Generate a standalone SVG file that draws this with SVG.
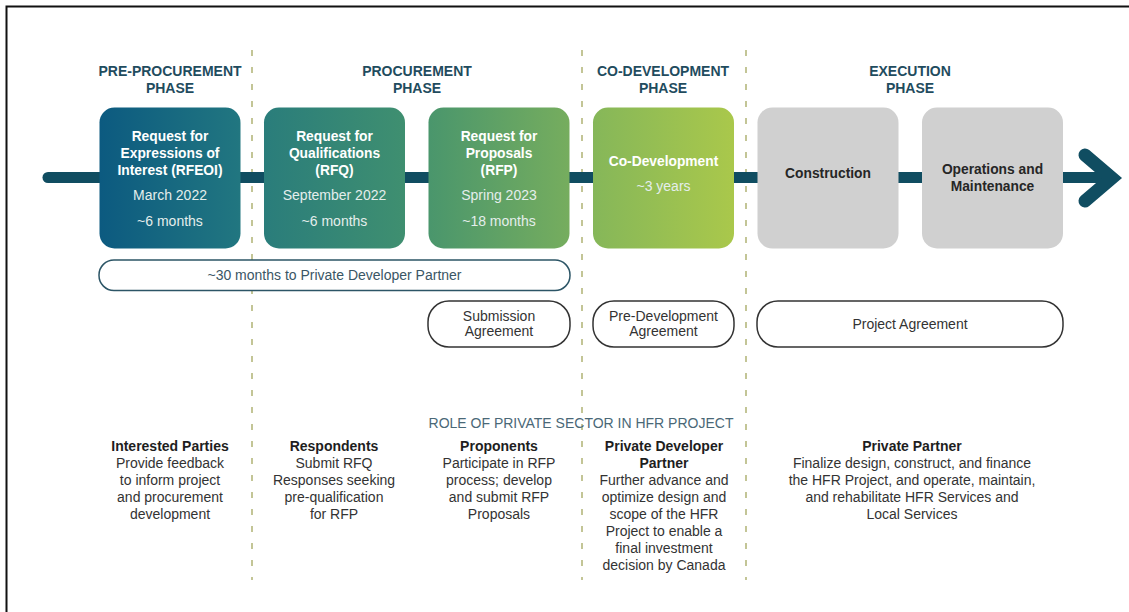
<svg xmlns="http://www.w3.org/2000/svg" width="1129" height="612" viewBox="0 0 1129 612">
  <defs>
    <linearGradient id="stageGrad" gradientUnits="userSpaceOnUse" x1="99" y1="0" x2="735" y2="0">
      <stop offset="0" stop-color="#0c5a80"/>
      <stop offset="0.22" stop-color="#217680"/>
      <stop offset="0.26" stop-color="#2a7d7b"/>
      <stop offset="0.48" stop-color="#3f8f70"/>
      <stop offset="0.52" stop-color="#4a966c"/>
      <stop offset="0.74" stop-color="#76ad5e"/>
      <stop offset="0.78" stop-color="#86b759"/>
      <stop offset="1" stop-color="#aac84b"/>
    </linearGradient>
  </defs>
  <style>
    text { font-family: "Liberation Sans", Arial, sans-serif; text-anchor: middle; }
    .phase { font-size: 14px; font-weight: bold; fill: #1f4c5e; }
    .stage { fill: url(#stageGrad); }
    .exec { fill: #d0d0d0; }
    .title { font-size: 13.8px; font-weight: bold; fill: #ffffff; }
    .date { font-size: 14px; fill: #e4eeec; }
    .dtitle { font-size: 13.8px; font-weight: bold; fill: #262626; }
    .divider { stroke: #c3c596; stroke-width: 2; stroke-dasharray: 6 11; fill: none; }
    .pill { fill: #ffffff; stroke: #333333; stroke-width: 1.5; }
    .pill-teal { fill: #ffffff; stroke: #2c5566; stroke-width: 1.5; }
    .ptext { font-size: 14px; fill: #333333; }
    .role-head { font-size: 14px; font-weight: bold; fill: #1e1e1e; }
    .role-body { font-size: 14px; fill: #333333; }
  </style>

  <rect x="0" y="0" width="1129" height="612" fill="#ffffff"/>
  <!-- page frame -->
  <path d="M6.5,612 V6.5 H1129" fill="none" stroke="#111111" stroke-width="2"/>

  <!-- phase dividers -->
  <g id="dividers">
    <line class="divider" x1="252" y1="50" x2="252" y2="580"/>
    <line class="divider" x1="582" y1="50" x2="582" y2="580"/>
    <line class="divider" x1="746" y1="50" x2="746" y2="580"/>
  </g>

  <!-- phase headings -->
  <g id="phase-headings">
    <text class="phase" x="170" y="76">PRE-PROCUREMENT</text>
    <text class="phase" x="170" y="93">PHASE</text>
    <text class="phase" x="417" y="76">PROCUREMENT</text>
    <text class="phase" x="417" y="93">PHASE</text>
    <text class="phase" x="663" y="76">CO-DEVELOPMENT</text>
    <text class="phase" x="663" y="93">PHASE</text>
    <text class="phase" x="910" y="76">EXECUTION</text>
    <text class="phase" x="910" y="93">PHASE</text>
  </g>

  <!-- timeline bar and arrowhead -->
  <g id="connectors">
    <line x1="48" y1="177.5" x2="1108" y2="177.5" stroke="#104d61" stroke-width="11" stroke-linecap="round"/>
    <polyline points="1085,155 1112,178 1085,201" fill="none" stroke="#104d61" stroke-width="13" stroke-linecap="round" stroke-linejoin="miter"/>
  </g>

  <g id="stage-rfeoi">
    <rect class="stage" x="99.5" y="107.5" width="141" height="141" rx="15"/>
    <text class="title" x="170" y="141">Request for</text>
    <text class="title" x="170" y="158">Expressions of</text>
    <text class="title" x="170" y="175">Interest (RFEOI)</text>
    <text class="date" x="170" y="200">March 2022</text>
    <text class="date" x="170" y="226">~6 months</text>
  </g>

  <g id="stage-rfq">
    <rect class="stage" x="264" y="107.5" width="141" height="141" rx="15"/>
    <text class="title" x="334.5" y="141">Request for</text>
    <text class="title" x="334.5" y="158">Qualifications</text>
    <text class="title" x="334.5" y="175">(RFQ)</text>
    <text class="date" x="334.5" y="200">September 2022</text>
    <text class="date" x="334.5" y="226">~6 months</text>
  </g>

  <g id="stage-rfp">
    <rect class="stage" x="428.5" y="107.5" width="141" height="141" rx="15"/>
    <text class="title" x="499" y="141">Request for</text>
    <text class="title" x="499" y="158">Proposals</text>
    <text class="title" x="499" y="175">(RFP)</text>
    <text class="date" x="499" y="200">Spring 2023</text>
    <text class="date" x="499" y="226">~18 months</text>
  </g>

  <g id="stage-codev">
    <rect class="stage" x="593" y="107.5" width="141" height="141" rx="15"/>
    <text class="title" x="663.5" y="166">Co-Development</text>
    <text class="date" x="663.5" y="191">~3 years</text>
  </g>

  <g id="stage-construction">
    <rect class="exec" x="757.5" y="107.5" width="141" height="141" rx="15"/>
    <text class="dtitle" x="828" y="178">Construction</text>
  </g>

  <g id="stage-operations">
    <rect class="exec" x="922" y="107.5" width="141" height="141" rx="15"/>
    <text class="dtitle" x="992.5" y="174">Operations and</text>
    <text class="dtitle" x="992.5" y="191">Maintenance</text>
  </g>

  <!-- duration and agreement pills -->
  <g id="pill-30-months">
    <rect class="pill-teal" x="99" y="260" width="471" height="30.5" rx="15"/>
    <text class="ptext" x="334.5" y="280" style="fill:#3a5665">~30 months to Private Developer Partner</text>
  </g>

  <g id="pill-submission">
    <rect class="pill" x="428" y="301" width="142" height="46" rx="21"/>
    <text class="ptext" x="499" y="321">Submission</text>
    <text class="ptext" x="499" y="336">Agreement</text>
  </g>

  <g id="pill-predev">
    <rect class="pill" x="593" y="301" width="141" height="46" rx="21"/>
    <text class="ptext" x="663.5" y="321">Pre-Development</text>
    <text class="ptext" x="663.5" y="336">Agreement</text>
  </g>

  <g id="pill-project">
    <rect class="pill" x="757" y="301" width="306" height="46" rx="21"/>
    <text class="ptext" x="910" y="329">Project Agreement</text>
  </g>

  <!-- roles of the private sector -->
  <text x="581" y="428" style="font-size:14px;fill:#4a6877">ROLE OF PRIVATE SECTOR IN HFR PROJECT</text>

  <g id="role-interested">
    <text class="role-head" x="170" y="451">Interested Parties</text>
    <text class="role-body" x="170" y="468">Provide feedback</text>
    <text class="role-body" x="170" y="485">to inform project</text>
    <text class="role-body" x="170" y="502">and procurement</text>
    <text class="role-body" x="170" y="519">development</text>
  </g>

  <g id="role-respondents">
    <text class="role-head" x="334" y="451">Respondents</text>
    <text class="role-body" x="334" y="468">Submit RFQ</text>
    <text class="role-body" x="334" y="485">Responses seeking</text>
    <text class="role-body" x="334" y="502">pre-qualification</text>
    <text class="role-body" x="334" y="519">for RFP</text>
  </g>

  <g id="role-proponents">
    <text class="role-head" x="499" y="451">Proponents</text>
    <text class="role-body" x="499" y="468">Participate in RFP</text>
    <text class="role-body" x="499" y="485">process; develop</text>
    <text class="role-body" x="499" y="502">and submit RFP</text>
    <text class="role-body" x="499" y="519">Proposals</text>
  </g>

  <g id="role-developer">
    <text class="role-head" x="664" y="451">Private Developer</text>
    <text class="role-head" x="664" y="468">Partner</text>
    <text class="role-body" x="664" y="485">Further advance and</text>
    <text class="role-body" x="664" y="502">optimize design and</text>
    <text class="role-body" x="664" y="519">scope of the HFR</text>
    <text class="role-body" x="664" y="536">Project to enable a</text>
    <text class="role-body" x="664" y="553">final investment</text>
    <text class="role-body" x="664" y="570">decision by Canada</text>
  </g>

  <g id="role-partner">
    <text class="role-head" x="912" y="451">Private Partner</text>
    <text class="role-body" x="912" y="468">Finalize design, construct, and finance</text>
    <text class="role-body" x="912" y="485">the HFR Project, and operate, maintain,</text>
    <text class="role-body" x="912" y="502">and rehabilitate HFR Services and</text>
    <text class="role-body" x="912" y="519">Local Services</text>
  </g>
</svg>
